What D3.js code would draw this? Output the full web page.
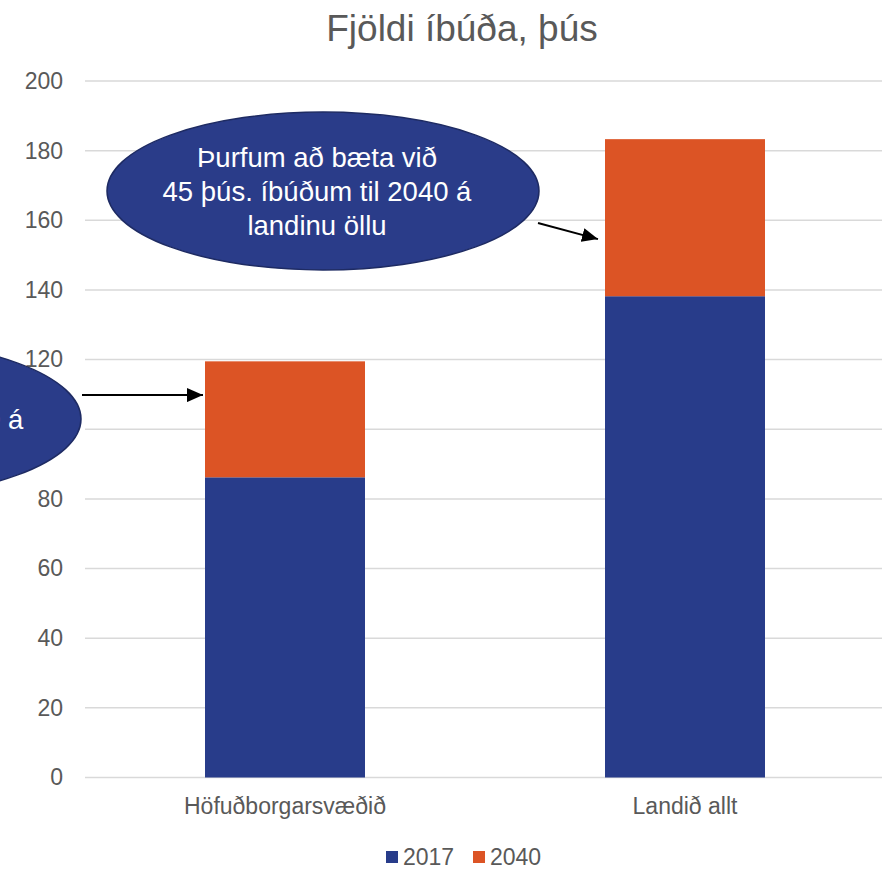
<!DOCTYPE html>
<html>
<head>
<meta charset="utf-8">
<script src="https://cdn.jsdelivr.net/npm/d3@7"></script>
<style>
  body { margin:0; background:#fff; }
  #canvas { width:882px; height:869px; overflow:hidden; }
  text { font-family: "Liberation Sans", Arial, sans-serif; }
</style>
</head>
<body>
<div id="canvas" class="canvas"></div>
<script>
// --- data
var categories = ["Höfuðborgarsvæðið", "Landið allt"];
var series = ["2017", "2040"];
var val2017 = [86.2, 138.2];
var add2040 = [33.3, 45.1];
var yTicks = [0, 20, 40, 60, 80, 100, 120, 140, 160, 180, 200];
var colors = ["#283c8a", "#dc5425"];
var title = "Fjöldi íbúða, þús";

// callouts: text lines, arrow target (category + value)
var notes = [
  {lines:["Þurfum að bæta við", "33 þús. íbúðum til 2040 á", "höfuðborgarsvæðinu"], cat:0, v:109.8},
  {lines:["Þurfum að bæta við", "45 þús. íbúðum til 2040 á", "landinu öllu"], cat:1, v:154.6}
];

// --- margins
var W = 882, H = 869;
var M = {top:81, right:0, bottom:92, left:85};
var w = W - M.left - M.right,
    h = H - M.top - M.bottom;

var svg = d3.select('.canvas').append('svg')
  .attr('width', W).attr('height', H);

var plot = svg.append('g')
  .attr('transform', 'translate(' + M.left + ',' + M.top + ')');

var x = d3.scaleBand().domain(categories).range([0, 800]).paddingInner(0.6).paddingOuter(0.3);
var y = d3.scaleLinear().domain([0, 200]).range([h + 0.5, 0]);

// gridlines
plot.selectAll('.grid').data(yTicks).enter().append('line')
  .attr('x1', 0).attr('x2', w)
  .attr('y1', function(d){ return y(d); })
  .attr('y2', function(d){ return y(d); })
  .attr('stroke', '#d9d9d9').attr('stroke-width', 1.5);

// y axis labels
var yAxis = d3.axisLeft(y).tickValues(yTicks).tickSize(0).tickPadding(22);
var ya = plot.append('g').call(yAxis);
ya.select('.domain').remove();
ya.selectAll('text').attr('font-size', '23px').attr('fill', '#595959')
  .style('font-family', '"Liberation Sans", Arial, sans-serif');

// stacked bars
var rows = categories.map(function(c, i){ return {cat:c, a:val2017[i], b:add2040[i]}; });
var stack = d3.stack().keys(['a', 'b'])(rows);

plot.selectAll('.layer').data(stack).enter().append('g')
  .attr('fill', function(d, i){ return colors[i]; })
  .selectAll('rect').data(function(d){ return d; }).enter().append('rect')
  .attr('x', function(d){ return x(d.data.cat); })
  .attr('width', x.bandwidth())
  .attr('y', function(d){ return y(d[1]); })
  .attr('height', function(d){ return y(d[0]) - y(d[1]); });

// category labels
var xa = plot.append('g').attr('transform', 'translate(0,' + h + ')')
  .call(d3.axisBottom(x).tickSize(0).tickPadding(21));
xa.select('.domain').remove();
xa.selectAll('text').attr('font-size', '23px').attr('fill', '#595959')
  .style('font-family', '"Liberation Sans", Arial, sans-serif');

// title
svg.append('text')
  .attr('x', 462).attr('y', 41)
  .attr('text-anchor', 'middle')
  .attr('font-size', '37px').attr('fill', '#595959')
  .text(title);

// arrow marker
svg.append('defs').append('marker')
  .attr('id', 'arr').attr('viewBox', '0 0 16 14')
  .attr('refX', 16).attr('refY', 7)
  .attr('markerWidth', 16).attr('markerHeight', 14)
  .attr('markerUnits', 'userSpaceOnUse')
  .attr('orient', 'auto')
  .append('path').attr('d', 'M0,0L16,7L0,14z').attr('fill', '#000');

// callouts
var ell = [{cx:-220, cy:338, tdx:4, from:[-3, 314], tip:-2},
           {cx:238, cy:110, tdx:-6, from:[453, 142], tip:-7}];
notes.forEach(function(n, i){
  var e = ell[i];
  var g = plot.append('g');
  var tx = x(categories[n.cat]) + e.tip, ty = y(n.v);
  g.append('line')
    .attr('x1', e.from[0]).attr('y1', e.from[1])
    .attr('x2', tx).attr('y2', ty)
    .attr('stroke', '#000').attr('stroke-width', 2)
    .attr('marker-end', 'url(#arr)');
  g.append('ellipse')
    .attr('cx', e.cx).attr('cy', e.cy)
    .attr('rx', 216).attr('ry', 79)
    .attr('fill', '#2a3c89').attr('stroke', '#1e2b63').attr('stroke-width', 1.5);
  g.selectAll('text.n').data(n.lines).enter().append('text')
    .attr('x', e.cx + e.tdx)
    .attr('y', function(d, j){ return e.cy - 24 + j * 34; })
    .attr('text-anchor', 'middle')
    .attr('font-size', '27.5px').attr('fill', '#fff')
    .text(function(d){ return d; });
});

// legend
var leg = svg.append('g').attr('transform', 'translate(386,851)');
var lx = [0, 87];
series.forEach(function(s, i){
  leg.append('rect').attr('x', lx[i]).attr('y', 0).attr('width', 12).attr('height', 12)
    .attr('fill', colors[i]);
  leg.append('text').attr('x', lx[i] + 17).attr('y', 14)
    .attr('font-size', '23px').attr('fill', '#595959').text(s);
});
</script>
</body>
</html>
